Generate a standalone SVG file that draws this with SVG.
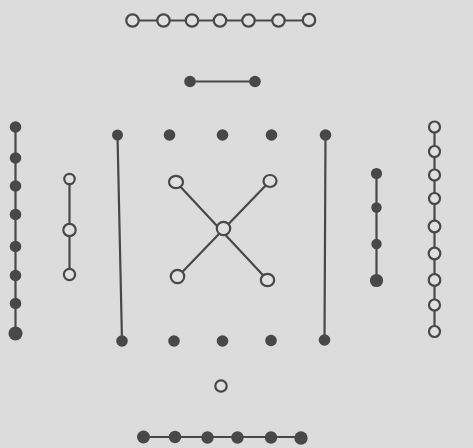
<svg xmlns="http://www.w3.org/2000/svg" width="473" height="448" viewBox="0 0 473 448">
<style>
.ln{stroke:#484848;stroke-width:2.2;fill:none;stroke-linecap:round}
.f{fill:#484848}
.o{fill:#e0e0e0;stroke:#484848;stroke-width:2.2}
</style>
<rect width="473" height="448" fill="#dcdcdc"/>
<g id="connectors">
<line class="ln" x1="133" y1="20.5" x2="309" y2="20.5"/>
<line class="ln" x1="190" y1="81.5" x2="255" y2="81.5"/>
<line class="ln" x1="15.5" y1="127" x2="15.5" y2="334"/>
<line class="ln" x1="69.5" y1="179" x2="69.5" y2="274"/>
<line class="ln" x1="376.5" y1="173" x2="376.5" y2="281"/>
<line class="ln" x1="434.5" y1="127" x2="434.5" y2="332"/>
<line class="ln" x1="117.5" y1="135" x2="122" y2="341"/>
<line class="ln" x1="325.5" y1="135" x2="324.5" y2="341"/>
<line class="ln" x1="176" y1="182" x2="267.5" y2="280"/>
<line class="ln" x1="270" y1="181" x2="177.5" y2="277"/>
<line class="ln" x1="143" y1="437" x2="301" y2="437"/>
</g>
<g id="top7">
<circle class="o" cx="132.5" cy="20.5" r="6.2"/>
<circle class="o" cx="163.5" cy="20.5" r="6.2"/>
<circle class="o" cx="192" cy="20.5" r="6.2"/>
<circle class="o" cx="220" cy="20.5" r="6.2"/>
<circle class="o" cx="248.5" cy="20.5" r="6.2"/>
<circle class="o" cx="278.5" cy="20.5" r="6.2"/>
<circle class="o" cx="309" cy="20" r="6.2"/>
</g>
<g id="top2">
<circle class="f" cx="190" cy="81.5" r="5.8"/>
<circle class="f" cx="255" cy="81.5" r="5.8"/>
</g>
<g id="left8">
<circle class="f" cx="15.5" cy="127" r="5.8"/>
<circle class="f" cx="15.5" cy="158" r="5.8"/>
<circle class="f" cx="15.5" cy="186" r="5.8"/>
<circle class="f" cx="15.5" cy="214.5" r="5.8"/>
<circle class="f" cx="15.5" cy="246.5" r="5.8"/>
<circle class="f" cx="15.5" cy="275.5" r="5.8"/>
<circle class="f" cx="15.5" cy="303.5" r="5.8"/>
<circle class="f" cx="15.5" cy="333.5" r="7"/>
</g>
<g id="left3">
<circle class="o" cx="69.5" cy="179" r="5.2"/>
<circle class="o" cx="69.5" cy="230" r="6.2"/>
<circle class="o" cx="69.5" cy="274.5" r="5.6"/>
</g>
<g id="right4">
<circle class="f" cx="376.5" cy="173.5" r="5.6"/>
<circle class="f" cx="376.5" cy="207.5" r="5.2"/>
<circle class="f" cx="376.5" cy="244" r="5.2"/>
<circle class="f" cx="376.5" cy="280.5" r="6.6"/>
</g>
<g id="right9">
<circle class="o" cx="434.5" cy="127" r="5.5"/>
<circle class="o" cx="434.5" cy="151.5" r="5.5"/>
<circle class="o" cx="434.5" cy="175" r="5.5"/>
<circle class="o" cx="434.5" cy="198.5" r="5.5"/>
<circle class="o" cx="434.5" cy="226.5" r="5.8"/>
<circle class="o" cx="434.5" cy="253.5" r="5.8"/>
<circle class="o" cx="434.5" cy="280" r="5.8"/>
<circle class="o" cx="434.5" cy="305" r="5.5"/>
<circle class="o" cx="434.5" cy="331.5" r="5.5"/>
</g>
<g id="upper-row">
<circle class="f" cx="117.5" cy="135" r="5.5"/>
<circle class="f" cx="169.5" cy="135" r="5.8"/>
<circle class="f" cx="222.5" cy="135" r="5.8"/>
<circle class="f" cx="271.5" cy="135" r="5.8"/>
<circle class="f" cx="325.5" cy="135" r="5.8"/>
</g>
<g id="lower-row">
<circle class="f" cx="122" cy="341" r="5.8"/>
<circle class="f" cx="174" cy="341" r="5.8"/>
<circle class="f" cx="222.5" cy="341" r="5.8"/>
<circle class="f" cx="271" cy="340.5" r="5.8"/>
<circle class="f" cx="324.5" cy="340" r="5.8"/>
</g>
<g id="center5">
<ellipse class="o" cx="176" cy="182" rx="7" ry="6.2"/>
<ellipse class="o" cx="270" cy="181" rx="6.5" ry="6"/>
<ellipse class="o" cx="223.5" cy="228.5" rx="6.7" ry="6.7"/>
<ellipse class="o" cx="177.5" cy="276.5" rx="6.7" ry="6.7"/>
<ellipse class="o" cx="267.5" cy="280" rx="6.7" ry="6.2"/>
</g>
<g id="bottom1">
<circle class="o" cx="221" cy="386" r="5.7"/>
</g>
<g id="bottom6">
<circle class="f" cx="143.5" cy="437" r="6.5"/>
<circle class="f" cx="175" cy="437" r="6.2"/>
<circle class="f" cx="207.5" cy="437.5" r="6.2"/>
<circle class="f" cx="237.5" cy="437.5" r="6.2"/>
<circle class="f" cx="271" cy="437.5" r="6.2"/>
<circle class="f" cx="301" cy="438" r="6.7"/>
</g>
</svg>
